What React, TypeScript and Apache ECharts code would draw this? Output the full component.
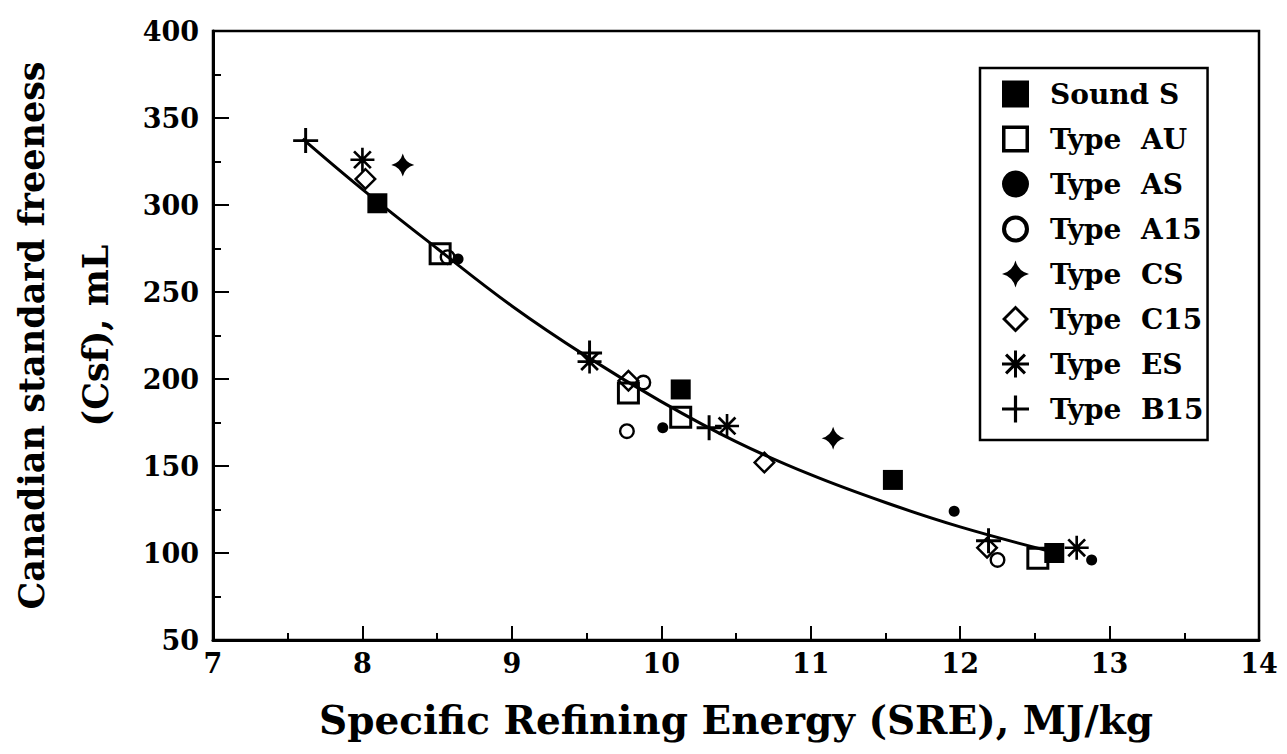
import React, { useEffect, useRef } from "react";
import * as echarts from "echarts";

const FONT = "DejaVu Serif";

// ---- data ----
const xTicks = { min: 7, max: 14, step: 1 };
const yTicks = { min: 50, max: 400, step: 50 };

const seriesNames = [
  "Sound S",
  "Type  AU",
  "Type  AS",
  "Type  A15",
  "Type  CS",
  "Type  C15",
  "Type  ES",
  "Type  B15",
];

const soundS = [[8.10, 301], [10.13, 194], [11.55, 142], [12.63, 100]];
const typeAU = [[8.52, 272], [9.78, 192], [10.13, 178], [12.52, 97]];
const typeAS = [[8.64, 269], [10.01, 172], [11.96, 124], [12.88, 96]];
const typeA15 = [[8.57, 270], [9.77, 170], [9.88, 198], [12.25, 96]];
const typeCS = [[8.27, 323], [11.15, 166]];
const typeC15 = [[8.02, 315], [9.78, 199], [10.69, 152], [12.18, 103]];
const typeES = [[8.0, 326], [9.52, 210], [10.44, 173], [12.78, 103]];
const typeB15 = [[7.62, 337], [9.52, 215], [10.32, 172], [12.19, 107]];

const fitX = [7.6, 8.0, 8.5, 9.0, 9.5, 10.0, 10.5, 11.0, 11.5, 12.0, 12.6];
const fitY = [338, 309, 275, 242, 213, 187, 164, 145, 129, 115, 101];

// ---- symbols ----
const SYM_OPEN_SQUARE = "path://M0,0 h20 v20 h-20 Z M2.6,2.6 v14.8 h14.8 v-14.8 Z";
const SYM_OPEN_CIRCLE =
  "path://M10,0 A10,10 0 1,1 10,20 A10,10 0 1,1 10,0 Z M10,3 A7,7 0 1,0 10,17 A7,7 0 1,0 10,3 Z";
const SYM_OPEN_DIAMOND =
  "path://M10,0 L20,10 L10,20 L0,10 Z M10,3 L3,10 L10,17 L17,10 Z";
const SYM_STAR4 =
  "path://M0,-10 Q2,-2 10,0 Q2,2 0,10 Q-2,2 -10,0 Q-2,-2 0,-10 Z";
const SYM_ASTERISK =
  "path://M-10,-1.1 h20 v2.2 h-20 Z M-1.1,-10 h2.2 v20 h-2.2 Z M-7.8,-6.2 L-6.2,-7.8 L7.8,6.2 L6.2,7.8 Z M-6.2,7.8 L-7.8,6.2 L6.2,-7.8 L7.8,-6.2 Z";
const SYM_PLUS = "path://M-11,-1.3 h22 v2.6 h-22 Z M-1.3,-11 h2.6 v22 h-2.6 Z";

const seriesData = [soundS, typeAU, typeAS, typeA15, typeCS, typeC15, typeES, typeB15];
const seriesSymbols = [
  "rect",
  SYM_OPEN_SQUARE,
  "circle",
  SYM_OPEN_CIRCLE,
  SYM_STAR4,
  SYM_OPEN_DIAMOND,
  SYM_ASTERISK,
  SYM_PLUS,
];
const seriesSizes = [20, 23, 11, 16, 23, 23, 24, 25];

export default function App() {
  const ref = useRef<HTMLDivElement>(null);

  useEffect(() => {
    if (!ref.current) return;
    const chart = echarts.init(ref.current, null, { renderer: "svg" });

    const scatter = seriesNames.map((name, i) => ({
      name,
      type: "scatter",
      data: seriesData[i],
      symbol: seriesSymbols[i],
      symbolSize: seriesSizes[i],
      itemStyle: { color: "#000", opacity: 1 },
      z: 3,
    }));

    const option: any = {
      animation: false,
      backgroundColor: "#fff",
      grid: {
        left: 213,
        top: 31,
        right: 28,
        bottom: 114,
        show: true,
        borderColor: "#000",
        borderWidth: 2.5,
        backgroundColor: "transparent",
        outerBoundsMode: "none",
        containLabel: false,
      },
      legend: {
        orient: "vertical",
        left: 980,
        top: 68,
        itemWidth: 27,
        itemHeight: 27,
        itemGap: 17,
        padding: [12, 4, 17, 22],
        borderColor: "#000",
        borderWidth: 2.5,
        backgroundColor: "#fff",
        selectedMode: false,
        textStyle: {
          fontFamily: FONT,
          fontSize: 28,
          fontWeight: "bold",
          color: "#000",
          padding: [0, 0, 0, 16],
        },
        data: seriesNames,
      },
      xAxis: {
        type: "value",
        min: xTicks.min,
        max: xTicks.max,
        interval: xTicks.step,
        axisLine: { show: true, onZero: false, lineStyle: { color: "#000", width: 3 } },
        axisTick: { show: true, inside: true, length: 14, lineStyle: { color: "#000", width: 2 } },
        minorTick: { show: true, splitNumber: 2, length: 7, lineStyle: { color: "#000", width: 2 } },
        splitLine: { show: false },
        axisLabel: { fontFamily: FONT, fontSize: 27, fontWeight: "bold", color: "#000", margin: 10 },
        name: "Specific Refining Energy (SRE), MJ/kg",
        nameLocation: "middle",
        nameGap: 60,
        nameTextStyle: { fontFamily: FONT, fontSize: 39, fontWeight: "bold", color: "#000" },
      },
      yAxis: {
        type: "value",
        min: yTicks.min,
        max: yTicks.max,
        interval: yTicks.step,
        axisLine: { show: true, onZero: false, lineStyle: { color: "#000", width: 3 } },
        axisTick: { show: true, inside: true, length: 16, lineStyle: { color: "#000", width: 2 } },
        minorTick: { show: true, splitNumber: 2, length: 8, lineStyle: { color: "#000", width: 2 } },
        splitLine: { show: false },
        axisLabel: { fontFamily: FONT, fontSize: 27, fontWeight: "bold", color: "#000", margin: 14 },
        name: "Canadian standard freeness\n(Csf), mL",
        nameLocation: "middle",
        nameRotate: 90,
        nameGap: 86,
        nameTextStyle: {
          fontFamily: FONT,
          fontSize: 35,
          fontWeight: "bold",
          color: "#000",
          lineHeight: 64,
        },
      },
      series: [
        {
          name: "fit",
          type: "line",
          data: fitX.map((x, i) => [x, fitY[i]]),
          smooth: 0.4,
          symbol: "none",
          lineStyle: { color: "#000", width: 3 },
          silent: true,
          z: 2,
        },
        ...scatter,
      ],
    };

    chart.setOption(option);
    return () => chart.dispose();
  }, []);

  return (
    <div
      ref={ref}
      style={{ position: "fixed", left: 0, top: 0, width: 1287, height: 754, background: "#fff" }}
    />
  );
}
